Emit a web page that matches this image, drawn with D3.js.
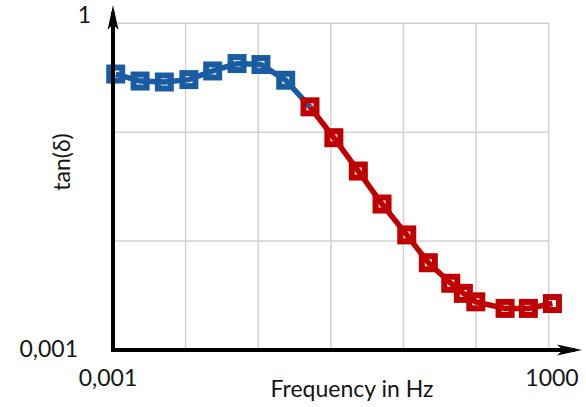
<!DOCTYPE html>
<html>
<head>
<meta charset="utf-8">
<script src="https://cdn.jsdelivr.net/npm/d3@7"></script>
<style>
  html, body { margin: 0; padding: 0; background: #fff; }
  svg text { font-family: Lato, "Open Sans", sans-serif; fill: #151515; }
</style>
</head>
<body>
<svg id="chart" width="586" height="407"></svg>
<script>
// Loss factor tan(δ) over frequency (log-log)
const freqLow = [0.00109, 0.00236, 0.00509, 0.0111, 0.0236, 0.0511, 0.109, 0.239];
const tanLow  = [0.342, 0.295, 0.289, 0.304, 0.365, 0.427, 0.418, 0.300];
const freqHigh = [0.516, 1.10, 2.39, 5.07, 11.1, 22.0, 44.8, 66.8, 99.1, 251, 525, 1125];
const tanHigh  = [0.171, 0.089, 0.044, 0.0219, 0.0114, 0.00633, 0.0041, 0.00331, 0.00277, 0.00241, 0.00241, 0.00267];
const xTicks = [0.001, 0.01, 0.1, 1, 10, 100, 1000];
const yTicks = [0.001, 0.01, 0.1, 1];
const xTickLabels = ["0,001", "1000"];
const yTickLabels = ["0,001", "1"];

const svg = d3.select("#chart");
const x = d3.scaleLog().domain([0.001, 1000]).range([113, 548.7]);
const y = d3.scaleLog().domain([0.001, 1]).range([350, 23.3]);

const blue = "#1a5ca2", red = "#c00000";
const fs = 23;

// grid
const grid = svg.append("g").attr("stroke", "#d2d2d2").attr("stroke-width", 1.5);
grid.selectAll("line.v").data(xTicks.slice(1)).join("line")
  .attr("x1", d => x(d)).attr("x2", d => x(d))
  .attr("y1", y(1)).attr("y2", y(0.001));
grid.selectAll("line.h").data(yTicks.slice(1)).join("line")
  .attr("x1", x(0.001)).attr("x2", x(1000))
  .attr("y1", d => y(d)).attr("y2", d => y(d));

// series: low-frequency part runs on to the first high-frequency point
const low = freqLow.map((f, i) => ({f, v: tanLow[i]}));
const high = freqHigh.map((f, i) => ({f, v: tanHigh[i]}));
const line = d3.line().x(d => x(d.f)).y(d => y(d.v));

svg.append("path").datum(low.concat([high[0]]))
  .attr("d", line).attr("fill", "none").attr("stroke", blue).attr("stroke-width", 5.5);
svg.append("path").datum(high)
  .attr("d", line).attr("fill", "none").attr("stroke", red).attr("stroke-width", 5.5);

const ms = 13;
function markers(data, color) {
  svg.append("g").selectAll("rect").data(data).join("rect")
    .attr("x", d => x(d.f) - ms / 2).attr("y", d => y(d.v) - ms / 2)
    .attr("width", ms).attr("height", ms)
    .attr("fill", "none").attr("stroke", color).attr("stroke-width", 6);
}
markers(low, blue);
markers(high, red);

// axes with arrowheads
const ax = svg.append("g");
ax.append("line").attr("x1", x(0.001)).attr("x2", x(0.001))
  .attr("y1", y(0.001) + 2).attr("y2", 12).attr("stroke", "#000").attr("stroke-width", 4);
ax.append("line").attr("x1", x(0.001) - 2).attr("x2", 575)
  .attr("y1", y(0.001)).attr("y2", y(0.001)).attr("stroke", "#000").attr("stroke-width", 4);
const x0 = x(0.001), yb = y(0.001);
ax.append("path").attr("d", `M${x0},5 L${x0 + 5.5},30 L${x0},24 L${x0 - 5.5},30 Z`).attr("fill", "#000");
ax.append("path").attr("d", `M582,${yb} L557,${yb - 5.5} L563,${yb} L557,${yb + 5.5} Z`).attr("fill", "#000");

// tick labels
svg.append("text").attr("x", 91).attr("y", 23).attr("text-anchor", "end")
  .attr("font-size", fs).text(yTickLabels[1]);
svg.append("text").attr("x", 78).attr("y", 357).attr("text-anchor", "end")
  .attr("font-size", fs).text(yTickLabels[0]);
svg.append("text").attr("x", 108).attr("y", 386).attr("text-anchor", "middle")
  .attr("font-size", fs).text(xTickLabels[0]);
svg.append("text").attr("x", 552).attr("y", 386).attr("text-anchor", "middle")
  .attr("font-size", fs).text(xTickLabels[1]);

// axis titles
svg.append("text").attr("x", 352).attr("y", 397).attr("text-anchor", "middle")
  .attr("font-size", fs).text("Frequency in Hz");
svg.append("text").attr("transform", "translate(70,162) rotate(-90)")
  .attr("text-anchor", "middle").attr("font-size", fs).text("tan(δ)");
</script>
</body>
</html>
